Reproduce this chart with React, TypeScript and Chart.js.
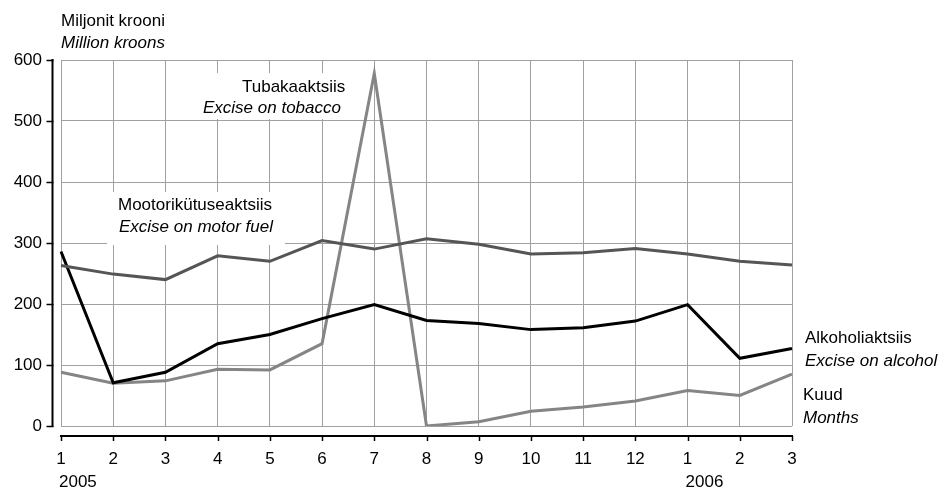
import React, { useEffect, useRef } from 'react';
import { Chart, registerables } from 'chart.js';

Chart.register(...registerables);

const months = ['1', '2', '3', '4', '5', '6', '7', '8', '9', '10', '11', '12', '1', '2', '3'];
const years = ['2005', '', '', '', '', '', '', '', '', '', '', '', '2006', '', ''];
const motorFuel = [263, 249, 240, 279, 270, 304, 290, 307, 298, 282, 284, 291, 282, 270, 264];
const alcohol = [286, 71, 88, 135, 150, 176, 199, 173, 168, 158, 161, 172, 199, 111, 127];
const tobacco = [88, 70, 74, 93, 92, 135, 578, 0, 7, 24, 31, 41, 58, 50, 85];
const yMin = 0;
const yMax = 600;
const yStep = 100;

const FAMILY = '"Liberation Sans", Arial, Helvetica, sans-serif';
const FONT = `17px ${FAMILY}`;
const IFONT = `italic 17px ${FAMILY}`;

const decor = {
  id: 'decor',
  beforeDatasetsDraw(chart: any) {
    const ctx = chart.ctx;
    ctx.save();
    ctx.fillStyle = '#ffffff';
    // label backgrounds masking the grid
    ctx.fillRect(107, 192, 178, 53);
    ctx.fillRect(196, 73, 160, 46);
    ctx.fillStyle = '#000';
    ctx.textAlign = 'left';
    ctx.textBaseline = 'alphabetic';
    ctx.font = FONT;
    ctx.fillText('Mootorikütuseaktsiis', 118, 210);
    ctx.fillText('Tubakaaktsiis', 242, 92);
    ctx.font = IFONT;
    ctx.fillText('Excise on motor fuel', 119, 232);
    ctx.fillText('Excise on tobacco', 203, 113);
    ctx.restore();
  },
  afterDraw(chart: any) {
    const ctx = chart.ctx;
    const ys = chart.scales.y;
    const xs = chart.scales.x;
    const area = chart.chartArea;
    ctx.save();
    ctx.strokeStyle = '#000';
    // y axis line, offset from the plot
    const ax = area.left - 8.5;
    ctx.lineWidth = 2;
    ctx.beginPath();
    ctx.moveTo(ax, ys.getPixelForValue(yMax) - 1);
    ctx.lineTo(ax, ys.getPixelForValue(yMin) + 1);
    ctx.stroke();
    ctx.lineWidth = 1.5;
    for (let v = yMin; v <= yMax; v += yStep) {
      const py = Math.round(ys.getPixelForValue(v)) + 0.5;
      ctx.beginPath();
      ctx.moveTo(ax - 6, py);
      ctx.lineTo(ax + 1, py);
      ctx.stroke();
    }
    // x axis line, offset below the plot
    const ay = area.bottom + 10;
    ctx.lineWidth = 2;
    ctx.beginPath();
    ctx.moveTo(xs.getPixelForValue(0) - 1, ay);
    ctx.lineTo(xs.getPixelForValue(months.length - 1) + 1, ay);
    ctx.stroke();
    ctx.lineWidth = 1.5;
    for (let i = 0; i < months.length; i++) {
      const px = Math.round(xs.getPixelForValue(i)) + 0.5;
      ctx.beginPath();
      ctx.moveTo(px, ay);
      ctx.lineTo(px, ay + 5);
      ctx.stroke();
    }
    // year labels
    ctx.fillStyle = '#000';
    ctx.font = FONT;
    ctx.textAlign = 'left';
    ctx.textBaseline = 'alphabetic';
    years.forEach((t, i) => {
      if (t) ctx.fillText(t, xs.getPixelForValue(i) - 2, 487);
    });
    // titles
    ctx.fillText('Miljonit krooni', area.left, 26);
    ctx.fillText('Alkoholiaktsiis', 805, 343);
    ctx.fillText('Kuud', 803, 400);
    ctx.font = IFONT;
    ctx.fillText('Million kroons', area.left, 48);
    ctx.fillText('Excise on alcohol', 805, 366);
    ctx.fillText('Months', 803, 423);
    ctx.restore();
  },
};

export default function App() {
  const ref = useRef<HTMLCanvasElement>(null);
  useEffect(() => {
    if (!ref.current) return;
    Chart.defaults.font.family = FAMILY;
    const chart = new Chart(ref.current, {
      type: 'line',
      data: {
        labels: months,
        datasets: [
          { label: 'Mootorikütuseaktsiis', data: motorFuel, borderColor: '#555555', borderWidth: 3 },
          { label: 'Alkoholiaktsiis', data: alcohol, borderColor: '#000000', borderWidth: 3 },
          { label: 'Tubakaaktsiis', data: tobacco, borderColor: '#858585', borderWidth: 3 },
        ],
      },
      options: {
        animation: false,
        responsive: false,
        events: [],
        layout: { padding: { top: 60, right: 155, left: 0, bottom: 0 } },
        elements: { point: { radius: 0 }, line: { tension: 0, borderCapStyle: 'butt', borderJoinStyle: 'miter' } },
        plugins: { legend: { display: false }, tooltip: { enabled: false }, title: { display: false } },
        scales: {
          x: {
            type: 'category',
            offset: false,
            grid: { color: '#a0a0a0', lineWidth: 1, drawTicks: false },
            border: { display: false },
            ticks: { color: '#000', font: { size: 17 }, padding: 23, maxRotation: 0, autoSkip: false },
            afterFit: (s: any) => { s.height = 63; },
          },
          y: {
            min: yMin,
            max: yMax,
            grid: { color: '#a0a0a0', lineWidth: 1, drawTicks: false },
            border: { display: false },
            ticks: { color: '#000', font: { size: 17 }, stepSize: yStep, padding: 19 },
            afterFit: (s: any) => { s.width = 61; },
          },
        },
      },
      plugins: [decor],
    });
    return () => chart.destroy();
  }, []);
  return (
    <div style={{ position: 'fixed', left: 0, top: 0, width: 947, height: 489, background: '#fff' }}>
      <canvas ref={ref} width={947} height={489} style={{ width: 947, height: 489, display: 'block' }} />
    </div>
  );
}
